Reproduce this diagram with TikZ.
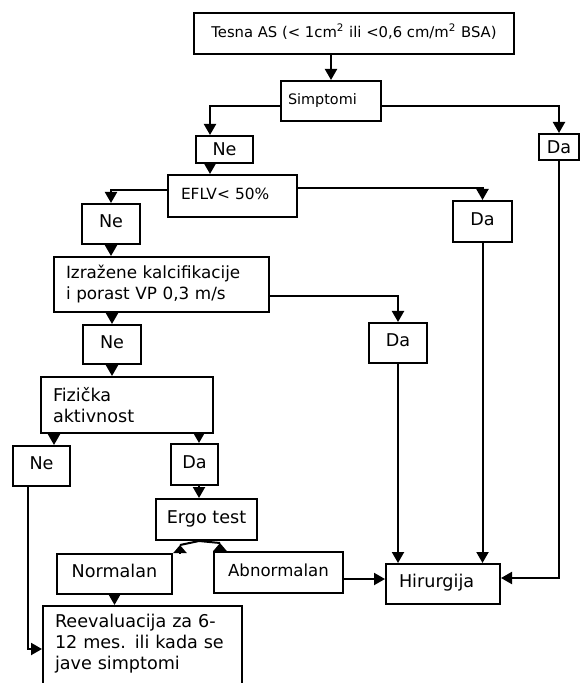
\documentclass[tikz,border=0pt]{standalone}
\usepackage{fontspec}
\setmainfont{DejaVu Sans}
\usetikzlibrary{arrows.meta,calc}

\tikzset{
  box/.style 2 args={draw, line width=1pt, anchor=north west, inner sep=0pt,
    minimum width=#1*0.5pt, minimum height=#2*0.5pt,
    font=\fontsize{8.8pt}{10.6pt}\selectfont},
  sbox/.style 2 args={box={#1}{#2}, text height=6.6pt, text depth=3pt},
  arr/.style={line width=1pt, -{Triangle[length=5.5pt,width=6pt]}},
  uptip/.style={line width=1pt, -{Triangle[length=4pt,width=6.5pt]}},
}

\begin{document}
\begin{tikzpicture}[x=0.5pt, y=-0.5pt]
    \path[use as bounding box, fill=white] (0,0) rectangle (579,683);

    % Top
    \node[sbox={320}{41}, font=\fontsize{7.4pt}{9pt}\selectfont] (tesna) at (193,12)
        {Tesna AS (< 1cm\textsuperscript{2} ili <0,6 cm/m\textsuperscript{2} BSA)};
    \node[sbox={100}{40}, text width=43pt, align=left, inner xsep=3.5pt,
        font=\fontsize{7.2pt}{9pt}\selectfont] (simp) at (280,80) {Simptomi};
    \node[box={57}{27}] (ne1) at (195,135) {Ne};
    \node[box={40}{26}] (da1) at (538,133) {Da};

    % EFLV
    \node[sbox={129}{42}, text width=51.5pt, align=left, inner xsep=6.5pt,
        font=\fontsize{7.7pt}{9pt}\selectfont] (eflv) at (167,174) {EFLV< 50\%};
    \node[sbox={58}{40}] (ne2) at (81,203) {Ne};
    \node[sbox={59}{41}] (da2) at (452,200) {Da};

    % Kalcifikacije
    \node[box={215}{55}, text width=95.5pt, align=left, inner xsep=6pt,
        font=\fontsize{8.4pt}{10.5pt}\selectfont] (izr) at (53,256)
        {Izražene kalcifikacije\\ i porast VP 0,3 m/s};
    \node[sbox={58}{40}] (da3) at (368,322) {Da};
    \node[sbox={58}{39}] (ne3) at (82,324) {Ne};

    % Fizicka aktivnost
    \node[box={172}{56}, text width=74pt, align=left, inner xsep=6pt] (fiz) at (40,376)
        {Fizička\\ aktivnost};
    \node[sbox={57}{40}] (ne4) at (12,445) {Ne};
    \node[sbox={47}{41}] (da4) at (170,443) {Da};
    \node[sbox={101}{41}] (ergo) at (155,498) {Ergo test};
    \node[sbox={115}{40}] (norm) at (56,553) {Normalan};
    \node[sbox={129}{41}, font=\fontsize{8.3pt}{10pt}\selectfont] (abn) at (213,551) {Abnormalan};

    % Ishod
    \node[sbox={114}{40}, text width=44pt, align=left, inner xsep=6.5pt] (hir) at (385,563) {Hirurgija};
    \node[box={199}{10}, text width=87.5pt, align=left, inner xsep=6pt, inner ysep=4pt,
        text depth=40pt] (reev) at (42,605)
        {Reevaluacija za 6-\\ 12 mes. ili kada se\\ jave simptomi};

    % Points where the connectors meet the boxes
    \coordinate (ne1in) at ($(ne1.north west)+(15,0)$);
    \coordinate (ne4in) at ($(ne4.north west)+(42,0)$);
    \coordinate (ne4out) at ($(ne4.south west)+(16,0)$);
    \coordinate (da4in) at ($(da4.north west)+(29,0)$);
    \coordinate (ergoout) at ($(ergo.south west)+(44,0)$);
    \coordinate (normtip) at ($(norm.north east)+(7,0)$);
    \coordinate (normtop) at ($(normtip)+(0,-8)$);
    \coordinate (abntip) at ($(abn.north west)+(7,0)$);
    \coordinate (abntop) at ($(abntip)+(0,-8)$);
    \coordinate (hirl) at ($(hir.west)+(0,-5)$);
    \coordinate (hirr) at ($(hir.east)+(0,-6)$);
    \coordinate (reevl) at ($(reev.north west)+(0,44)$);

    % Connectors
    \draw[arr] (tesna.south -| simp.north) -- (simp.north);
    \draw[arr] ($(simp.west)+(0,5)$) -| (ne1in);
    \draw[arr] ($(simp.east)+(0,5)$) -| (da1.north);
    \draw[arr] (ne1in |- ne1.south) -- (ne1in |- eflv.north);
    \draw[arr] ($(eflv.west)+(0,-6)$) -| (ne2.north);
    \draw[arr] ($(eflv.east)+(0,-8)$) -| (da2.north);
    \draw[arr] (ne2.south) -- (ne2.south |- izr.north);
    \draw[arr] ($(izr.east)+(0,12)$) -| (da3.north);
    \draw[arr] (ne3.north |- izr.south) -- (ne3.north);
    \draw[arr] (ne3.south) -- (ne3.south |- fiz.north);
    \draw[arr] (ne4in |- fiz.south) -- (ne4in);
    \draw[arr] (da4in |- fiz.south) -- (da4in);
    \draw[arr] (da4in |- da4.south) -- (da4in |- ergo.north);
    % Ergo test: the tips stand on the boxes below
    \draw[line width=1pt] (normtop) -- (ergoout) -- (abntop);
    \draw[uptip] (normtip) -- (normtop);
    \draw[uptip] (abntip) -- (abntop);
    \draw[arr] (abn.east |- hirl) -- (hirl);
    \draw[arr] (da3.south) -- (da3.south |- hir.north);
    \draw[arr] (da2.south) -- (da2.south |- hir.north);
    \draw[arr] (da1.south) |- (hirr);
    \draw[arr] (ne4out) |- (reevl);
    \draw[arr] (norm.south) -- (norm.south |- reev.north);
\end{tikzpicture}
\end{document}
